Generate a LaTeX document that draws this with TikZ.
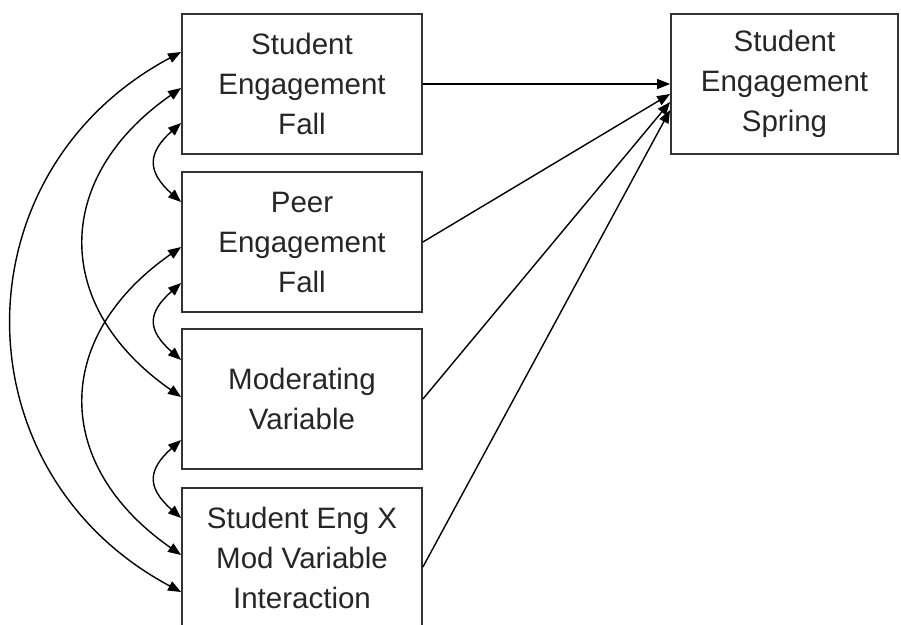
\documentclass[tikz,border=0pt]{standalone}
\usepackage{fontspec}
\setmainfont{Liberation Sans}
\usetikzlibrary{arrows.meta,calc}
\begin{document}
\begin{tikzpicture}[x=1pt,y=-1pt,
  var/.style={draw=black!80,line width=1.8pt,minimum width=240pt,minimum height=140pt,inner sep=0pt,align=center,font=\fontsize{29.5}{40}\selectfont,text=black!85},
  cov/.style={line width=1.4pt,{Triangle[length=13pt,width=10pt]}-{Triangle[length=13pt,width=10pt]}},
  reg/.style={line width=1.4pt,-{Triangle[length=13pt,width=10pt]}}]
\useasboundingbox (0,0) rectangle (901,624);
\clip (0,0) rectangle (901,624);
\node[var] (b1) at (302,84) {Student\\Engagement\\Fall};
\node[var] (b2) at (302,242) {Peer\\Engagement\\Fall};
\node[var] (b3) at (302,399) {Moderating\\Variable};
\node[var] (b4) at (302,558) {Student Eng X\\Mod Variable\\Interaction};
\node[var,minimum width=227pt] (sp) at (784.5,84) {Student\\Engagement\\Spring};
\coordinate (b1o) at ($(b1.west)+(0,-32)$);
\coordinate (b1m) at ($(b1.west)+(0,4)$);
\coordinate (b1s) at ($(b1.west)+(0,39)$);
\coordinate (b2s) at ($(b2.west)+(0,-40)$);
\coordinate (b2m) at ($(b2.west)+(0,5)$);
\coordinate (b2t) at ($(b2.west)+(0,41)$);
\coordinate (b3u) at ($(b3.west)+(0,-39)$);
\coordinate (b3m) at ($(b3.west)+(0,-2)$);
\coordinate (b3t) at ($(b3.west)+(0,41)$);
\coordinate (b4u) at ($(b4.west)+(0,-40)$);
\coordinate (b4m) at ($(b4.west)+(0,-3)$);
\coordinate (b4o) at ($(b4.west)+(0,34)$);
\draw[cov] (b1s) .. controls +(-34,30) and +(-34,-30) .. (b2s);
\draw[cov] (b2t) .. controls +(-34,30) and +(-34,-30) .. (b3u);
\draw[cov] (b3t) .. controls +(-34,30) and +(-34,-30) .. (b4u);
\draw[cov] (b1m) .. controls +(-129,90) and +(-129,-90) .. (b3m);
\draw[cov] (b2m) .. controls +(-129,90) and +(-129,-90) .. (b4m);
\draw[cov] (b1o) .. controls +(-225,120) and +(-225,-120) .. (b4o);
\coordinate (s2) at ($(sp.west)+(0,10)$);
\coordinate (s3) at ($(sp.west)+(0,18)$);
\coordinate (s4) at ($(sp.west)+(0,26)$);
\coordinate (b4r) at ($(b4.east)+(0,9)$);
\draw[reg] (b1.east) -- (sp.west);
\draw[reg] (b2.east) -- (s2);
\draw[reg] (b3.east) -- (s3);
\draw[reg] (b4r) -- (s4);
\end{tikzpicture}
\end{document}
